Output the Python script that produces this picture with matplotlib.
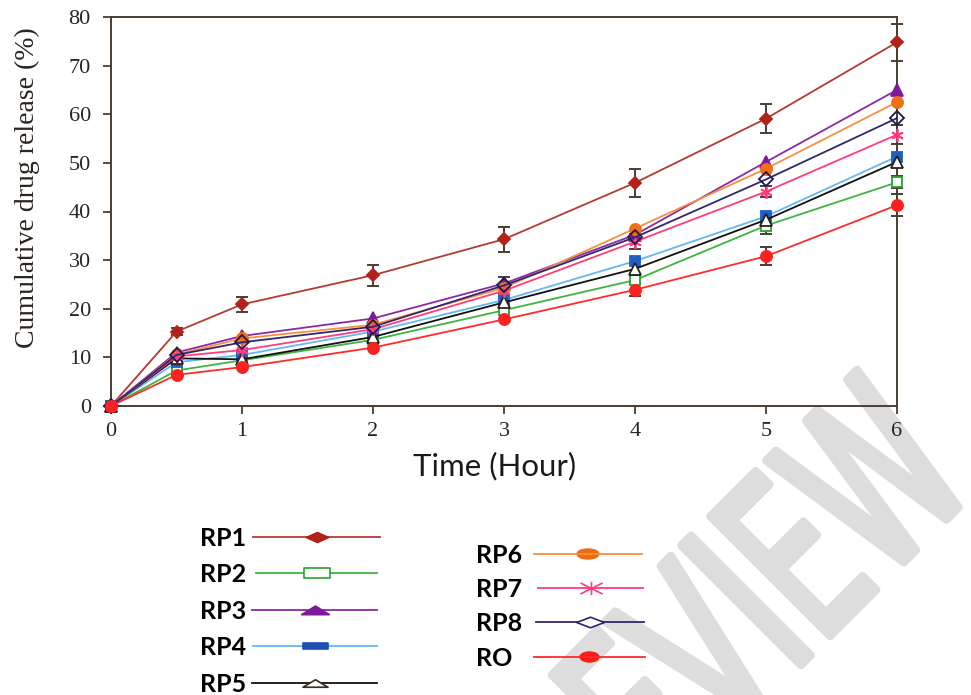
import numpy as np
import matplotlib
matplotlib.use("Agg")
import matplotlib.pyplot as plt
from matplotlib.path import Path
from matplotlib.textpath import TextPath
from matplotlib.patches import PathPatch, Ellipse
from matplotlib.font_manager import FontProperties
from matplotlib.transforms import Affine2D

# ---- data -------------------------------------------------------------
time_h = [0, 0.5, 1, 2, 3, 4, 5, 6]

rp1 = [0, 15.3, 20.9, 26.9, 34.3, 45.9, 59.1, 74.8]
rp2 = [0, 7.3, 9.4, 13.6, 19.7, 25.9, 37.1, 46.0]
rp3 = [0, 11.0, 14.4, 18.0, 25.2, 35.2, 50.2, 65.0]
rp4 = [0, 9.0, 10.5, 15.3, 21.8, 29.8, 39.0, 51.3]
rp5 = [0, 9.8, 9.6, 14.2, 21.3, 28.2, 38.3, 50.2]
rp6 = [0, 10.6, 13.9, 16.7, 24.3, 36.5, 48.8, 62.5]
rp7 = [0, 10.2, 11.5, 15.8, 23.7, 33.8, 44.1, 55.8]
rp8 = [0, 10.5, 13.1, 16.3, 24.8, 34.7, 46.6, 59.2]
ro = [0, 6.4, 8.0, 12.0, 17.8, 23.9, 30.8, 41.3]

rp1_err = [0, 0.8, 1.5, 2.2, 2.6, 2.9, 3.0, 3.8]
rp2_err = [0, 0, 0, 0, 0, 0, 1.7, 1.2]
rp7_err = [0, 0, 0, 0, 0, 1.6, 1.1, 2.0]
rp8_err = [0, 0, 0, 0, 1.8, 0, 0, 0]
ro_err = [0, 0, 0, 0, 0, 1.3, 1.9, 2.3]

series_names = ["RP1", "RP2", "RP3", "RP4", "RP5", "RP6", "RP7", "RP8", "RO"]
x_ticks = [0, 1, 2, 3, 4, 5, 6]
y_ticks = [0, 10, 20, 30, 40, 50, 60, 70, 80]

values = dict(zip(series_names, [rp1, rp2, rp3, rp4, rp5, rp6, rp7, rp8, ro]))
errors = {"RP1": rp1_err, "RP2": rp2_err, "RP7": rp7_err, "RP8": rp8_err, "RO": ro_err}

# ---- styles -----------------------------------------------------------
axis_color = "#4b3d33"
W = 971
H = 695

def flat(verts):
    return Path(verts + [verts[0]], closed=True)

style = {
    "RP1": dict(line="#b53a2f", mk="D", mfc="#b0221a", mec="#b0221a", ms=6),
    "RP2": dict(line="#3db543", mk="s", mfc="white", mec="#28a32c", ms=7),
    "RP3": dict(line="#8a2aa6", mk="^", mfc="#7d1a9c", mec="#7d1a9c", ms=8.5),
    "RP4": dict(line="#66b8f0", mk="s", mfc="#1f5ec6", mec="#1f5ec6", ms=7),
    "RP5": dict(line="#111111", mk="^", mfc="white", mec="#2a2018", ms=8),
    "RP6": dict(line="#f79040", mk="o", mfc="#f07018", mec="#f07018", ms=8),
    "RP7": dict(line="#ff3d7a", mk=(6, 2, 0), mfc="#ff3d7a", mec="#ff3d7a", ms=9),
    "RP8": dict(line="#2f286f", mk="D", mfc="none", mec="#1e1850", ms=7.5),
    "RO": dict(line="#ff2a2a", mk="o", mfc="#ff2020", mec="#ff2020", ms=8),
}

legend_marker = {
    "RP1": (flat([(-1, 0), (0, 0.45), (1, 0), (0, -0.45)]), "#b0221a", "#b0221a", 16),
    "RP2": (flat([(-1, -0.38), (1, -0.38), (1, 0.38), (-1, 0.38)]), "white", "#28a32c", 19),
    "RP3": (flat([(-1, -0.3), (1, -0.3), (0, 0.32)]), "#7d1a9c", "#7d1a9c", 20),
    "RP4": (flat([(-1, -0.27), (1, -0.27), (1, 0.27), (-1, 0.27)]), "#1d4fb5", "#1d4fb5", 18),
    "RP5": (flat([(-1, -0.3), (1, -0.3), (0, 0.3)]), "white", "#3a2a20", 18),
    "RP6": (None, "#f06a10", "#f06a10", None),
    "RP7": (Path([(-1, 0.5), (1, -0.5), (-1, -0.5), (1, 0.5), (0, 0.6), (0, -0.6)],
                 [Path.MOVETO, Path.LINETO, Path.MOVETO, Path.LINETO, Path.MOVETO, Path.LINETO]),
            "none", "#ff3d7a", 16),
    "RP8": (flat([(-1, 0), (0, 0.38), (1, 0), (0, -0.38)]), "white", "#2a2470", 20),
    "RO": (None, "#ff1a1a", "#ff1a1a", None),
}

fig = plt.figure(figsize=(W / 100, H / 100), dpi=100, facecolor="white")

# ---- faint watermark in the background ---------------------------------
bg = fig.add_axes([0, 0, 1, 1], zorder=0)
bg.set_xlim(0, W)
bg.set_ylim(0, H)
bg.axis("off")
fp = FontProperties(family="DejaVu Sans")
S = 232
word = "REVIEW"
tp = TextPath((0, 0), word, size=S, prop=fp)
x_e = TextPath((0, 0), word[:5], size=S, prop=fp).get_extents().x1 - \
    TextPath((0, 0), "E", size=S, prop=fp).get_extents().width
tr = Affine2D().translate(-x_e, 0).scale(0.6, 1).rotate_deg(45).translate(830, H - 636)
bg.add_patch(PathPatch(tp, transform=tr + bg.transData, facecolor="#dddddd",
                       edgecolor="#dddddd", lw=6, joinstyle="round", capstyle="round"))

# ---- main plot ----------------------------------------------------------
ax = fig.add_axes([111 / W, 1 - 406 / H, (897 - 111) / W, (406 - 17) / H], zorder=1)
ax.set_facecolor("none")
t = np.array(time_h)
for name in series_names:
    st = style[name]
    v = np.array(values[name])
    if name in errors:
        e = np.array(errors[name])
        keep = e > 0
        ax.errorbar(t[keep], v[keep], yerr=e[keep], fmt="none", ecolor=axis_color,
                    elinewidth=1.4, capsize=4.5, capthick=1.4, zorder=2, clip_on=False)
    ax.plot(t, v, color=st["line"], lw=1.3, marker=st["mk"], markersize=st["ms"],
            markerfacecolor=st["mfc"], markeredgecolor=st["mec"], markeredgewidth=1.3,
            zorder=3, clip_on=False)

ax.set_xlim(0, 6)
ax.set_ylim(0, 80)
ax.set_xticks(x_ticks)
ax.set_yticks(y_ticks)
for sp in ax.spines.values():
    sp.set_color(axis_color)
    sp.set_linewidth(1.4)
ax.tick_params(axis="both", direction="out", length=5.5, width=1.3, color=axis_color,
               labelsize=16, labelcolor="#2b2520")
ax.tick_params(axis="y", pad=9)
ax.tick_params(axis="x", pad=6)
for lab in ax.get_xticklabels() + ax.get_yticklabels():
    lab.set_fontfamily("Liberation Serif")

fig.text(27 / W, 1 - 188 / H, "Cumulative drug release (%)", rotation=90,
         ha="center", va="center", fontsize=20, family="Liberation Serif", color="#2b2520")
fig.text(495 / W, 1 - 466 / H, "Time (Hour)", ha="center", va="center",
         fontsize=22.5, family="Lato", color="#1a1a1a")

# ---- legend, drawn in pixel coordinates ---------------------------------
ov = fig.add_axes([0, 0, 1, 1], zorder=2)
ov.set_xlim(0, W)
ov.set_ylim(H, 0)
ov.axis("off")

legend_pos = {
    "RP1": (200, 253, 380, 537), "RP2": (200, 256, 377, 573), "RP3": (200, 252, 377, 610),
    "RP4": (200, 253, 377, 646), "RP5": (200, 252, 377, 683),
    "RP6": (476, 534, 642, 554), "RP7": (476, 538, 643, 588), "RP8": (476, 536, 644, 622),
    "RO": (476, 534, 645, 657),
}
for name in series_names:
    xt, x0, x1, y = legend_pos[name]
    ov.text(xt, y + 9, name, ha="left", va="baseline", fontsize=18, family="Lato",
            fontweight="bold", color="black")
    ov.plot([x0, x1], [y, y], color=style[name]["line"], lw=1.3)
    path, fc, ec, ms = legend_marker[name]
    xm = (x0 + x1) / 2
    if path is None:
        ov.add_patch(Ellipse((xm, y), 22 if name == "RP6" else 19, 10,
                             facecolor=fc, edgecolor=ec, lw=1))
    else:
        ov.plot([xm], [y], marker=path, markersize=ms, markerfacecolor=fc,
                markeredgecolor=ec, markeredgewidth=1.2, linestyle="none")

fig.savefig("out.png", dpi=100, facecolor="white")
